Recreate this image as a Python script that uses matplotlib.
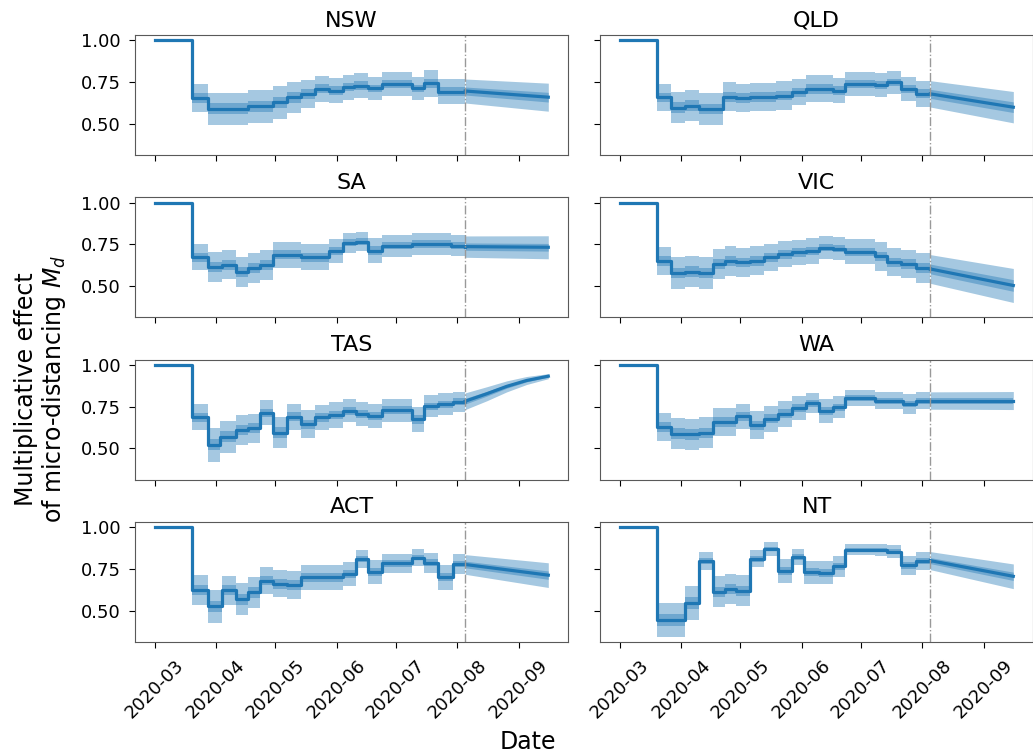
import matplotlib
matplotlib.use("Agg")
import matplotlib.pyplot as plt
import matplotlib.dates as mdates
import numpy as np
import pandas as pd

# change points of the estimated effect (steps), then the forecast after 2020-08-05
nsw_dates = ["03-01", "03-20", "03-28", "04-17", "04-30", "05-07", "05-14", "05-21", "05-28",
             "06-04", "06-10", "06-17", "06-24", "07-09", "07-15", "07-22", "08-05", "09-16"]
nsw_med = [1.0, 0.656, 0.591, 0.605, 0.630, 0.660, 0.680, 0.710, 0.700,
           0.720, 0.730, 0.713, 0.739, 0.713, 0.743, 0.694, 0.697, 0.660]
nsw_w95 = [0, 0.084, 0.095, 0.099, 0.099, 0.094, 0.082, 0.079, 0.077,
           0.074, 0.074, 0.069, 0.072, 0.069, 0.079, 0.077, 0.072, 0.084]
nsw_w50 = [0, 0.029, 0.032, 0.034, 0.034, 0.032, 0.028, 0.027, 0.026,
           0.025, 0.025, 0.023, 0.024, 0.023, 0.027, 0.026, 0.024, 0.029]

qld_dates = ["03-01", "03-20", "03-27", "04-03", "04-10", "04-22", "04-29", "05-06", "05-19", "05-27",
             "06-03", "06-17", "06-23", "07-08", "07-14", "07-21", "07-29", "08-05", "09-16"]
qld_med = [1.0, 0.660, 0.597, 0.610, 0.590, 0.664, 0.654, 0.660, 0.670, 0.690,
           0.710, 0.700, 0.739, 0.733, 0.749, 0.710, 0.680, 0.680, 0.600]
qld_w95 = [0, 0.082, 0.094, 0.092, 0.094, 0.087, 0.084, 0.085, 0.086, 0.078,
           0.081, 0.077, 0.069, 0.069, 0.069, 0.074, 0.079, 0.079, 0.094]
qld_w50 = [0, 0.028, 0.032, 0.031, 0.032, 0.030, 0.029, 0.029, 0.029, 0.027,
           0.028, 0.026, 0.023, 0.023, 0.023, 0.025, 0.027, 0.027, 0.032]

sa_dates = ["03-01", "03-20", "03-28", "04-04", "04-11", "04-17", "04-23", "04-30", "05-14",
            "05-28", "06-04", "06-11", "06-17", "06-24", "07-09", "07-29", "08-05", "09-16"]
sa_med = [1.0, 0.674, 0.615, 0.628, 0.585, 0.609, 0.628, 0.688, 0.674,
          0.708, 0.759, 0.767, 0.713, 0.743, 0.753, 0.743, 0.737, 0.733]
sa_w95 = [0, 0.079, 0.089, 0.087, 0.091, 0.091, 0.089, 0.077, 0.079,
          0.072, 0.061, 0.059, 0.074, 0.066, 0.064, 0.064, 0.064, 0.069]
sa_w50 = [0, 0.027, 0.030, 0.030, 0.031, 0.031, 0.030, 0.026, 0.027,
          0.024, 0.021, 0.020, 0.025, 0.022, 0.022, 0.022, 0.022, 0.023]

vic_dates = ["03-01", "03-20", "03-27", "04-03", "04-10", "04-17", "04-23", "04-29", "05-06", "05-13", "05-20",
             "05-27", "06-03", "06-10", "06-17", "06-23", "07-08", "07-14", "07-21", "07-29", "08-05", "09-16"]
vic_med = [1.0, 0.652, 0.579, 0.587, 0.579, 0.632, 0.652, 0.642, 0.652, 0.672, 0.692,
           0.702, 0.711, 0.731, 0.725, 0.706, 0.678, 0.642, 0.632, 0.607, 0.603, 0.504]
vic_w95 = [0, 0.085, 0.095, 0.094, 0.094, 0.091, 0.089, 0.086, 0.086, 0.081, 0.079,
           0.077, 0.076, 0.067, 0.067, 0.074, 0.086, 0.084, 0.085, 0.089, 0.086, 0.102]
vic_w50 = [0, 0.029, 0.032, 0.032, 0.032, 0.031, 0.030, 0.029, 0.029, 0.028, 0.027,
           0.026, 0.026, 0.023, 0.023, 0.025, 0.029, 0.029, 0.029, 0.030, 0.029, 0.035]

tas_dates = ["03-01", "03-20", "03-28", "04-03", "04-11", "04-17", "04-23", "04-30", "05-07", "05-14",
             "05-21", "05-28", "06-04", "06-11", "06-17", "06-24", "07-09", "07-15", "07-22", "07-30",
             "08-05", "08-16", "08-26", "09-05", "09-16"]
tas_med = [1.0, 0.686, 0.522, 0.571, 0.610, 0.620, 0.713, 0.595, 0.690, 0.644,
           0.686, 0.700, 0.725, 0.706, 0.694, 0.729, 0.674, 0.753, 0.765, 0.779,
           0.783, 0.828, 0.872, 0.907, 0.933]
tas_w95 = [0, 0.078, 0.101, 0.096, 0.092, 0.089, 0.075, 0.093, 0.079, 0.084,
           0.076, 0.076, 0.069, 0.074, 0.074, 0.069, 0.077, 0.066, 0.065, 0.061,
           0.050, 0.042, 0.033, 0.024, 0.015]
tas_w50 = [0, 0.027, 0.034, 0.033, 0.031, 0.030, 0.026, 0.032, 0.027, 0.029,
           0.026, 0.026, 0.023, 0.025, 0.025, 0.023, 0.026, 0.022, 0.022, 0.021,
           0.017, 0.014, 0.011, 0.008, 0.005]

wa_dates = ["03-01", "03-20", "03-27", "04-03", "04-10", "04-17", "04-29", "05-06", "05-13", "05-20",
            "05-27", "06-03", "06-10", "06-17", "06-23", "07-08", "07-22", "07-29", "08-05", "09-16"]
wa_med = [1.0, 0.628, 0.589, 0.585, 0.593, 0.658, 0.692, 0.638, 0.678, 0.708,
          0.741, 0.771, 0.727, 0.747, 0.802, 0.787, 0.767, 0.787, 0.787, 0.787]
wa_w95 = [0, 0.086, 0.094, 0.094, 0.093, 0.084, 0.077, 0.084, 0.079, 0.077,
          0.071, 0.059, 0.072, 0.066, 0.047, 0.052, 0.059, 0.052, 0.052, 0.054]
wa_w50 = [0, 0.029, 0.032, 0.032, 0.032, 0.029, 0.026, 0.029, 0.027, 0.026,
          0.024, 0.020, 0.024, 0.022, 0.016, 0.018, 0.020, 0.018, 0.018, 0.018]

act_dates = ["03-01", "03-20", "03-28", "04-04", "04-11", "04-17", "04-23", "04-30", "05-07", "05-14",
             "06-04", "06-11", "06-17", "06-24", "07-09", "07-15", "07-22", "07-30", "08-05", "09-16"]
act_med = [1.0, 0.625, 0.526, 0.621, 0.569, 0.609, 0.680, 0.660, 0.654, 0.700,
           0.719, 0.812, 0.733, 0.783, 0.818, 0.787, 0.700, 0.779, 0.777, 0.713]
act_w95 = [0, 0.089, 0.099, 0.089, 0.094, 0.092, 0.079, 0.081, 0.082, 0.076,
           0.074, 0.054, 0.071, 0.059, 0.051, 0.061, 0.074, 0.059, 0.059, 0.074]
act_w50 = [0, 0.030, 0.034, 0.030, 0.032, 0.031, 0.027, 0.028, 0.028, 0.026,
           0.025, 0.018, 0.024, 0.020, 0.017, 0.021, 0.025, 0.020, 0.020, 0.025]

nt_dates = ["03-01", "03-20", "04-03", "04-10", "04-17", "04-23", "04-29", "05-06", "05-13", "05-20",
            "05-27", "06-02", "06-10", "06-17", "06-23", "07-08", "07-14", "07-21", "07-29", "08-05", "09-16"]
nt_med = [1.0, 0.445, 0.547, 0.796, 0.613, 0.632, 0.619, 0.810, 0.870, 0.737,
          0.820, 0.731, 0.727, 0.765, 0.866, 0.864, 0.854, 0.771, 0.800, 0.800, 0.706]
nt_w95 = [0, 0.100, 0.102, 0.054, 0.092, 0.089, 0.092, 0.051, 0.040, 0.071,
          0.049, 0.069, 0.069, 0.063, 0.035, 0.035, 0.037, 0.059, 0.054, 0.054, 0.074]
nt_w50 = [0, 0.034, 0.035, 0.018, 0.031, 0.030, 0.031, 0.017, 0.014, 0.024,
          0.017, 0.023, 0.023, 0.021, 0.012, 0.012, 0.013, 0.020, 0.018, 0.018, 0.025]

regions = ["NSW", "QLD", "SA", "VIC", "TAS", "WA", "ACT", "NT"]
series = {
    "NSW": (nsw_dates, nsw_med, nsw_w95, nsw_w50),
    "QLD": (qld_dates, qld_med, qld_w95, qld_w50),
    "SA": (sa_dates, sa_med, sa_w95, sa_w50),
    "VIC": (vic_dates, vic_med, vic_w95, vic_w50),
    "TAS": (tas_dates, tas_med, tas_w95, tas_w50),
    "WA": (wa_dates, wa_med, wa_w95, wa_w50),
    "ACT": (act_dates, act_med, act_w95, act_w50),
    "NT": (nt_dates, nt_med, nt_w95, nt_w50),
}
forecast_start = pd.Timestamp("2020-08-05")

col = "#1f77b4"
fig, axes = plt.subplots(4, 2, sharex=True, sharey=True, figsize=(10.33, 7.56), dpi=100)
fig.subplots_adjust(left=0.1307, right=1.0, top=0.9537, bottom=0.1508, wspace=0.074, hspace=0.35)

for ax, name in zip(axes.flat, regions):
    d, m, w95, w50 = series[name]
    d = pd.to_datetime(["2020-" + s for s in d])
    m, w95, w50 = np.array(m), np.array(w95), np.array(w50)
    k = list(d).index(forecast_start)

    # fitted part: piecewise constant
    h = slice(0, k + 1)
    ax.fill_between(d[h], m[h] - w95[h], m[h] + w95[h], step="post", color=col, alpha=0.4, lw=0)
    ax.fill_between(d[h], m[h] - w50[h], m[h] + w50[h], step="post", color=col, alpha=0.4, lw=0)
    ax.plot(d[h], m[h], drawstyle="steps-post", color=col, lw=2.3)

    # forecast part
    f = slice(k, None)
    ax.fill_between(d[f], m[f] - w95[f], m[f] + w95[f], color=col, alpha=0.4, lw=0)
    ax.fill_between(d[f], m[f] - w50[f], m[f] + w50[f], color=col, alpha=0.4, lw=0)
    ax.plot(d[f], m[f], color=col, lw=2.3)

    ax.axvline(forecast_start, color="0.6", ls="-.", lw=1)
    ax.set_title(name, fontsize=16)
    ax.tick_params(labelsize=13, length=4.5, pad=6)
    for s in ax.spines.values():
        s.set_edgecolor("0.35")

axes[0, 0].set_yticks([0.5, 0.75, 1.0])
axes[0, 0].xaxis.set_major_locator(mdates.MonthLocator())
axes[0, 0].xaxis.set_major_formatter(mdates.DateFormatter("%Y-%m"))
for ax in axes[-1]:
    plt.setp(ax.get_xticklabels(), rotation=45)

fig.text(0.511, 0.003, "Date", ha="center", va="bottom", fontsize=17)
fig.text(0.04, 0.485, "Multiplicative effect\nof micro-distancing $M_d$", ha="center", va="center",
         rotation=90, fontsize=17, linespacing=1.1)

fig.savefig("out.png", dpi=100)
